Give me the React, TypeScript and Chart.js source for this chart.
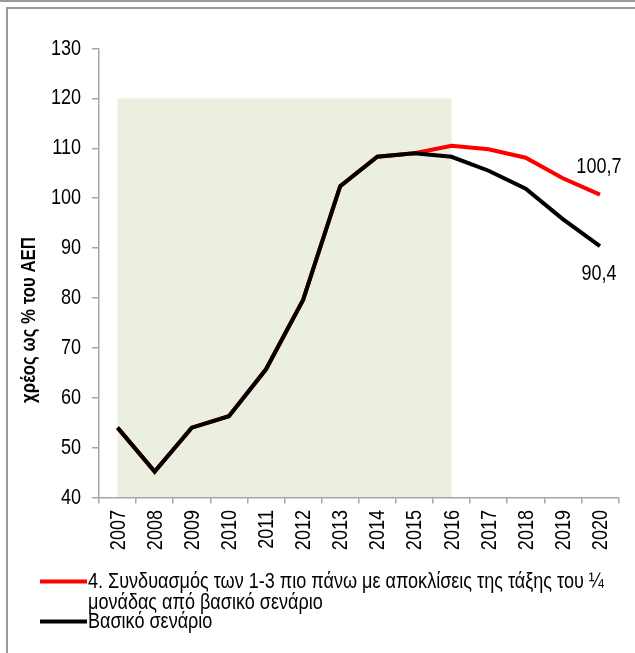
import React, { useEffect, useRef } from 'react';
import { Chart, registerables } from 'chart.js';

Chart.register(...registerables);

const years = ['2007', '2008', '2009', '2010', '2011', '2012', '2013', '2014', '2015', '2016', '2017', '2018', '2019', '2020'];
const baseline = [54.0, 45.2, 54.0, 56.3, 65.7, 79.6, 102.4, 108.3, 109.0, 108.3, 105.5, 101.9, 95.8, 90.4];
const scenario4 = [54.0, 45.2, 54.0, 56.3, 65.7, 79.6, 102.4, 108.3, 109.0, 110.5, 109.8, 108.1, 104.0, 100.7];
const scenarioLegend = ['4. Συνδυασμός των 1-3 πιο πάνω με αποκλίσεις της τάξης του ¼', 'μονάδας από βασικό σενάριο'];
const baselineLegend = 'Βασικό σενάριο';
const yTitle = 'χρέος ως % του ΑΕΠ';
const yMin = 40;
const yMax = 130;
const yStep = 10;
const shadeFrom = '2007';
const shadeTo = '2016';
const shadeTop = 120;

const FONT = "'Liberation Sans', Arial, sans-serif";
const NARROW = 0.82;

const fmt = (v: number) => v.toFixed(1).replace('.', ',');

function narrowText(ctx: any, text: string, x: number, y: number, align: string, font: string, rot = 0) {
  ctx.save();
  ctx.translate(x, y);
  if (rot) ctx.rotate(rot);
  ctx.scale(NARROW, 1);
  ctx.font = font;
  ctx.fillStyle = '#000';
  ctx.textAlign = align;
  ctx.textBaseline = 'middle';
  ctx.fillText(text, 0, 0);
  ctx.restore();
}

const decorPlugin = {
  id: 'decor',
  beforeDraw(chart: any) {
    const { ctx, scales } = chart;
    const x = scales.x;
    const y = scales.y;
    ctx.save();
    ctx.fillStyle = '#ffffff';
    ctx.fillRect(0, 0, chart.width, chart.height);
    ctx.strokeStyle = '#9a9a9a';
    ctx.lineWidth = 2;
    ctx.beginPath();
    ctx.moveTo(0, 1);
    ctx.lineTo(chart.width, 1);
    ctx.stroke();
    ctx.beginPath();
    ctx.moveTo(7, chart.height);
    ctx.lineTo(7, 8);
    ctx.lineTo(chart.width, 8);
    ctx.stroke();
    const x0 = x.getPixelForValue(years.indexOf(shadeFrom));
    const x1 = x.getPixelForValue(years.indexOf(shadeTo));
    const y0 = y.getPixelForValue(shadeTop);
    const y1 = y.getPixelForValue(yMin);
    ctx.fillStyle = '#ebefe0';
    ctx.fillRect(x0, y0, x1 - x0, y1 - y0);
    ctx.restore();
  },
  afterDraw(chart: any) {
    const { ctx, scales } = chart;
    const x = scales.x;
    const y = scales.y;
    const f22 = `22px ${FONT}`;

    // y tick labels
    y.ticks.forEach((t: any) => {
      narrowText(ctx, String(t.value), 81, y.getPixelForValue(t.value), 'right', f22);
    });
    // x tick labels
    years.forEach((lab, i) => {
      narrowText(ctx, lab, x.getPixelForValue(i) + 1, 510, 'right', f22, -Math.PI / 2);
    });
    // y title
    narrowText(ctx, yTitle, 29, 320, 'center', `bold 20.5px ${FONT}`, -Math.PI / 2);

    // end labels
    const li = years.length - 1;
    const xe = x.getPixelForValue(li);
    narrowText(ctx, fmt(scenario4[li]), xe - 1, y.getPixelForValue(scenario4[li]) - 28, 'center', f22);
    narrowText(ctx, fmt(baseline[li]), xe - 1, y.getPixelForValue(baseline[li]) + 28, 'center', f22);

    // legend
    ctx.save();
    ctx.lineWidth = 4;
    ctx.strokeStyle = '#ff0000';
    ctx.beginPath();
    ctx.moveTo(40, 581.5);
    ctx.lineTo(87, 581.5);
    ctx.stroke();
    ctx.strokeStyle = '#000000';
    ctx.beginPath();
    ctx.moveTo(40, 621.5);
    ctx.lineTo(87, 621.5);
    ctx.stroke();
    ctx.restore();
    narrowText(ctx, scenarioLegend[0], 88, 582, 'left', f22);
    narrowText(ctx, scenarioLegend[1], 88, 603, 'left', f22);
    narrowText(ctx, baselineLegend, 88, 622, 'left', f22);
  },
};

export default function App() {
  const ref = useRef<HTMLCanvasElement | null>(null);
  useEffect(() => {
    if (!ref.current) return;
    const axisColor = '#a6a6a6';
    const chart = new Chart(ref.current, {
      type: 'line',
      data: {
        labels: years,
        datasets: [
          {
            label: baselineLegend,
            data: baseline,
            borderColor: '#000000',
            borderWidth: 4,
            pointRadius: 0,
            tension: 0,
            fill: false,
            order: 0,
          },
          {
            label: scenarioLegend.join(' '),
            data: scenario4,
            borderColor: '#ff0000',
            borderWidth: 4,
            pointRadius: 0,
            tension: 0,
            fill: false,
            order: 1,
          },
        ],
      },
      options: {
        animation: false,
        responsive: false,
        devicePixelRatio: 1,
        layout: { padding: { top: 48.5, right: 16.5, left: 0, bottom: 0 } },
        plugins: {
          legend: { display: false },
          tooltip: { enabled: false },
          title: { display: false },
        },
        scales: {
          x: {
            type: 'category',
            offset: true,
            grid: { offset: true, drawOnChartArea: false, drawTicks: true, tickLength: 6, color: axisColor, lineWidth: 1.5 },
            border: { color: axisColor, width: 1.5 },
            ticks: { display: false, autoSkip: false },
            afterFit: (s: any) => { s.height = 155.5; },
          },
          y: {
            min: yMin,
            max: yMax,
            grid: { drawOnChartArea: false, drawTicks: true, tickLength: 7, color: axisColor, lineWidth: 1.5 },
            border: { color: axisColor, width: 1.5 },
            ticks: { display: false, stepSize: yStep },
            afterFit: (s: any) => { s.width = 99; },
          },
        },
      },
      plugins: [decorPlugin],
    });
    return () => chart.destroy();
  }, []);
  return (
    <div style={{ position: 'absolute', left: 0, top: 0, width: 635, height: 653 }}>
      <canvas ref={ref} width={635} height={653} style={{ display: 'block', width: 635, height: 653 }} />
    </div>
  );
}
